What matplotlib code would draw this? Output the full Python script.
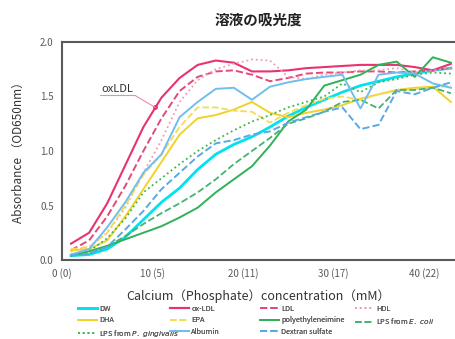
"""
溶液の吸光度: カルシウム(リン酸)濃度に対する各溶液の吸光度 (OD650nm)
"""
import matplotlib
matplotlib.use("Agg")
import matplotlib.pyplot as plt

plt.rcParams['font.family'] = ['Noto Sans CJK JP', 'DejaVu Sans']

# Calcium concentration (mM)
calcium = [1, 3, 5, 7, 9, 11, 13, 15, 17, 19, 21, 23, 25, 27, 29, 31, 33, 35, 37, 39, 41, 43]

dw = [0.04, 0.05, 0.10, 0.21, 0.37, 0.53, 0.66, 0.83, 0.97, 1.06, 1.13, 1.22, 1.32, 1.40,
      1.47, 1.54, 1.60, 1.64, 1.68, 1.71, 1.74, 1.76]
ox_ldl = [0.15, 0.25, 0.52, 0.87, 1.22, 1.49, 1.67, 1.79, 1.83, 1.81, 1.73, 1.73, 1.74, 1.76,
          1.77, 1.78, 1.79, 1.79, 1.79, 1.77, 1.74, 1.80]
ldl = [0.09, 0.18, 0.40, 0.68, 1.00, 1.30, 1.55, 1.68, 1.73, 1.74, 1.70, 1.64, 1.67, 1.71,
       1.72, 1.72, 1.73, 1.73, 1.72, 1.73, 1.74, 1.76]
hdl = [0.08, 0.12, 0.25, 0.48, 0.80, 1.10, 1.45, 1.65, 1.75, 1.80, 1.84, 1.83, 1.68, 1.66,
       1.70, 1.72, 1.74, 1.74, 1.76, 1.72, 1.74, 1.76]
dha = [0.09, 0.10, 0.18, 0.40, 0.65, 0.90, 1.15, 1.30, 1.33, 1.38, 1.45, 1.35, 1.31, 1.35,
       1.38, 1.42, 1.48, 1.52, 1.56, 1.58, 1.59, 1.45]
epa = [0.10, 0.12, 0.25, 0.50, 0.78, 0.97, 1.22, 1.40, 1.40, 1.37, 1.36, 1.26, 1.35, 1.42,
       1.48, 1.50, 1.47, 1.52, 1.55, 1.57, 1.58, 1.60]
pei = [0.04, 0.08, 0.13, 0.19, 0.25, 0.31, 0.39, 0.48, 0.62, 0.74, 0.86, 1.05, 1.27, 1.38,
       1.60, 1.65, 1.70, 1.79, 1.82, 1.68, 1.86, 1.81]
lps_ecoli = [0.04, 0.06, 0.12, 0.22, 0.33, 0.43, 0.52, 0.62, 0.74, 0.88, 1.00, 1.12, 1.25,
             1.30, 1.36, 1.45, 1.47, 1.39, 1.56, 1.56, 1.58, 1.53]
lps_pg = [0.05, 0.08, 0.20, 0.38, 0.62, 0.75, 0.88, 1.00, 1.10, 1.19, 1.27, 1.33, 1.40, 1.45,
          1.50, 1.62, 1.54, 1.63, 1.66, 1.70, 1.72, 1.71]
albumin = [0.05, 0.10, 0.30, 0.53, 0.80, 0.97, 1.31, 1.45, 1.57, 1.58, 1.47, 1.59, 1.63, 1.66,
           1.68, 1.70, 1.39, 1.70, 1.72, 1.71, 1.62, 1.58]
dextran = [0.04, 0.06, 0.12, 0.28, 0.45, 0.65, 0.80, 0.95, 1.07, 1.10, 1.15, 1.18, 1.26, 1.31,
           1.36, 1.40, 1.20, 1.24, 1.55, 1.52, 1.58, 1.63]

xticks = [0, 10, 20, 30, 40]
xtick_labels = ["0 (0)", "10 (5)", "20 (11)", "30 (17)", "40 (22)"]
yticks = [0.0, 0.5, 1.0, 1.5, 2.0]

# (label, data, color, linestyle, linewidth)
series = [
    ("DW", dw, "#00e3ee", "-", 2.0),
    ("ox-LDL", ox_ldl, "#e8336d", "-", 1.5),
    ("LDL", ldl, "#e4497a", "--", 1.4),
    ("HDL", hdl, "#f39ab4", ":", 1.3),
    ("DHA", dha, "#f2d12a", "-", 1.4),
    ("EPA", epa, "#f3dc55", "--", 1.3),
    ("polyethyleneimine", pei, "#2eb15a", "-", 1.4),
    ("LPS from $\\mathit{E.\\ coli}$", lps_ecoli, "#45b36e", "--", 1.3),
    ("LPS from $\\mathit{P.\\ gingivalis}$", lps_pg, "#3fb44f", ":", 1.3),
    ("Albumin", albumin, "#72bdf0", "-", 1.4),
    ("Dextran sulfate", dextran, "#5aa9e6", "--", 1.4),
]

fig = plt.figure(figsize=(4.56, 3.39), dpi=100)
ax = fig.add_axes([62 / 456, 79 / 339, 407 / 456, 218 / 339])

lines = []
for label, data, color, ls, lw in series:
    line, = ax.plot(calcium, data, color=color, linestyle=ls, linewidth=lw, label=label)
    lines.append(line)

ax.set_xlim(0, 45)
ax.set_ylim(0, 2.0)
ax.set_xticks(xticks)
ax.set_xticklabels(xtick_labels)
ax.set_yticks(yticks)
ax.set_yticklabels([f"{v:.1f}" for v in yticks])
ax.tick_params(length=0, labelsize=7, colors="#595959", pad=6)

for side in ["left", "bottom", "top"]:
    ax.spines[side].set_color("#595959")
    ax.spines[side].set_linewidth(1.5)
ax.spines["right"].set_visible(False)

# oxLDL の注釈
ax.annotate(
    "oxLDL",
    xy=(10.3, 1.40),
    xytext=(6.1, 1.52),
    fontsize=8,
    color="#333333",
    ha="center",
    va="bottom",
    arrowprops=dict(arrowstyle="-", color="#f08aa5", lw=0.8, relpos=(1.0, 0.0),
                    shrinkA=0, shrinkB=0),
)
ax.plot([4.2, 8.1], [1.51, 1.51], color="#f08aa5", linewidth=0.8)
ax.plot([10.3], [1.40], marker="o", markersize=2.5, color="#e8336d")

fig.text(258 / 456, 1 - 20 / 339, "溶液の吸光度", ha="center", va="center",
         fontsize=10.5, fontweight="bold", color="#222222")
fig.text(258 / 456, 1 - 296 / 339, "Calcium（Phosphate）concentration（mM）",
         ha="center", va="center", fontsize=9, color="#333333")
fig.text(18 / 456, 1 - 150 / 339, "Absorbance （OD650nm）", ha="center", va="center",
         rotation=90, fontsize=8.5, color="#333333")

# 凡例: Excel 風に等幅の4列、行優先の並び
col_left = [78, 170, 260, 355]
for c, x0 in enumerate(col_left):
    col_lines = lines[c::4]
    leg = fig.legend(
        handles=col_lines,
        labels=[l.get_label() for l in col_lines],
        loc="upper left",
        bbox_to_anchor=(x0 / 456, 1 - 305 / 339),
        fontsize=5.3,
        frameon=False,
        borderpad=0,
        borderaxespad=0,
        handlelength=2.6,
        handletextpad=0.3,
        labelspacing=0.45,
        labelcolor="#555555",
    )
    fig.add_artist(leg)

fig.savefig("out.png", dpi=100)
